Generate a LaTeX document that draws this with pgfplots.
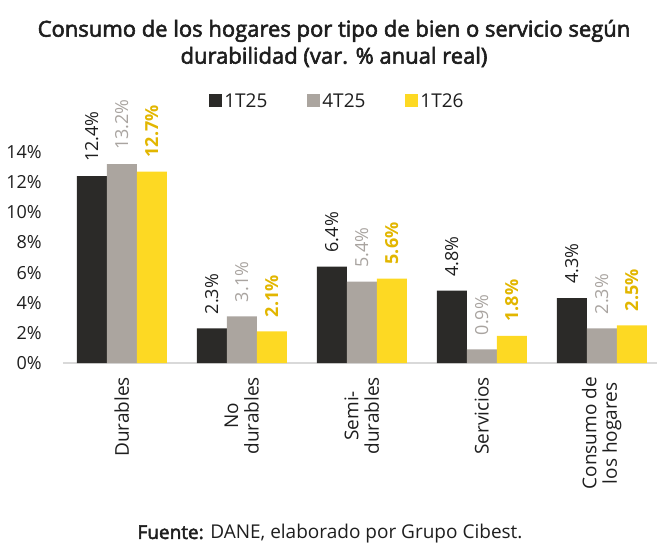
\documentclass[border=0pt]{standalone}
\usepackage{pgfplots}
\usepackage{pgfplotstable}
\pgfplotsset{compat=1.18}
\usepackage{fontspec}
\setmainfont{Open Sans}
\newfontfamily\semib{Open Sans}[FakeBold=2.5]

\definecolor{serA}{HTML}{2B2A28}
\definecolor{serB}{HTML}{ABA59F}
\definecolor{serC}{HTML}{FDD923}
\definecolor{labA}{HTML}{1E1E1E}
\definecolor{labB}{HTML}{A9A4A0}
\definecolor{labC}{HTML}{E2B600}
\definecolor{txt}{HTML}{1E1E1E}
\definecolor{axisgray}{HTML}{D9D9D9}

\newcommand\lblsize{\fontsize{18}{20}\selectfont}
\newcommand\catsize{\fontsize{19}{20.5}\selectfont}
\newcommand\titlesize{\fontsize{22}{27}\selectfont}

% Consumo de los hogares: variación % anual real
\pgfplotstableread{
x a b c
0 12.4 13.2 12.7
1 2.3 3.1 2.1
2 6.4 5.4 5.6
3 4.8 0.9 1.8
4 4.3 2.3 2.5
}\datatab

\begin{document}
\begin{tikzpicture}
\begin{axis}[
  at={(0pt,0pt)}, anchor=south west,
  scale only axis, width=594pt, height=211pt,
  xmin=-0.49, xmax=4.46, ymin=0, ymax=14,
  clip=false,
  ybar=0pt, bar width=30pt,
  axis x line*=bottom, axis y line*=left,
  x axis line style={-, axisgray, line width=1.5pt},
  y axis line style={draw=none},
  major tick length=0pt, tick style={draw=none},
  /pgf/number format/assume math mode=true,
  ytick={0,2,...,14},
  yticklabel={\pgfmathprintnumber{\tick}\%},
  yticklabel style={font=\lblsize, text=txt, inner sep=0pt, xshift=-21pt},
  xtick={0,...,4},
  xticklabels={Durables,{No\\durables},{Semi-\\durables},Servicios,{Consumo de\\los hogares}},
  xticklabel style={font=\catsize, text=txt, rotate=90, anchor=east, align=center,
    inner xsep=14pt, inner ysep=0pt},
  nodes near coords={\pgfmathprintnumber[fixed,fixed zerofill,precision=1]{\pgfplotspointmeta}\%},
  every node near coord/.append style={rotate=90, anchor=west, inner xsep=14pt, inner ysep=0pt, font=\lblsize},
  legend columns=3,
  legend style={at={(axis description cs:0.462,1.242)}, anchor=center, draw=none, fill=none,
    font=\catsize, text=txt, inner sep=0pt, nodes={inner sep=2pt},
    /tikz/every even column/.append style={column sep=38pt}},
  sqleg/.style={legend image code/.code={\fill[##1] (0pt,-6.5pt) rectangle (13pt,6.5pt);}},
]
\addplot[fill=serA, draw=none, sqleg, every node near coord/.append style={text=labA}]
  table[x=x, y=a] {\datatab};
\addplot[fill=serB, draw=none, sqleg, every node near coord/.append style={text=labB}]
  table[x=x, y=b] {\datatab};
\addplot[fill=serC, draw=none, sqleg, every node near coord/.append style={text=labC, font=\lblsize\bfseries}]
  table[x=x, y=c] {\datatab};
\legend{1T25,4T25,1T26}
\end{axis}
\node[font=\titlesize\semib, text=txt, align=center] at (271pt,319.5pt)
  {Consumo de los hogares por tipo de bien o servicio según\\durabilidad (var. \% anual real)};
\node[font=\fontsize{19}{22}\selectfont, text=txt] at (267pt,-171pt)
  {{\semib Fuente:} DANE, elaborado por Grupo Cibest.};
\useasboundingbox (-63pt,-192pt) rectangle (609pt,363pt);
\end{tikzpicture}
\end{document}
